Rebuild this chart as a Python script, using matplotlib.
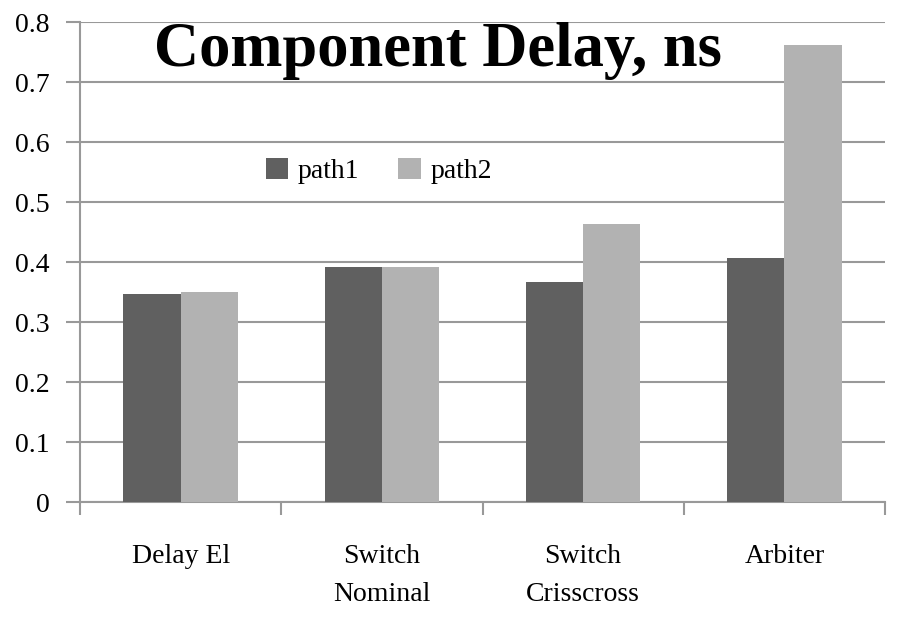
import matplotlib
matplotlib.use("Agg")
import matplotlib.pyplot as plt
import numpy as np

CATEGORIES = ["Delay El", "Switch\nNominal", "Switch\nCrisscross", "Arbiter"]
PATH1 = [0.347, 0.392, 0.367, 0.407]
PATH2 = [0.350, 0.392, 0.463, 0.762]
SERIES = ["path1", "path2"]
COLORS = ["#606060", "#b2b2b2"]
YTICKS = [0, 0.1, 0.2, 0.3, 0.4, 0.5, 0.6, 0.7, 0.8]

plt.rcParams["font.family"] = ["Liberation Serif", "DejaVu Serif"]

fig = plt.figure(figsize=(9, 6.17), dpi=100)
ax = fig.add_axes([80 / 900, 1 - 502 / 617, 805 / 900, 480 / 617])

x = np.arange(len(CATEGORIES))
w = 0.285
ax.bar(x - w / 2, PATH1, w, color=COLORS[0], label=SERIES[0], zorder=3)
ax.bar(x + w / 2, PATH2, w, color=COLORS[1], label=SERIES[1], zorder=3)

ax.set_xlim(-0.5, len(CATEGORIES) - 0.5)
ax.set_ylim(0, 0.8)
ax.set_yticks(YTICKS)
ax.set_yticklabels(["0" if v == 0 else f"{v:.1f}" for v in YTICKS], fontsize=20)
ax.yaxis.grid(True, color="#999999", linewidth=1.5, zorder=0)
ax.tick_params(axis="y", length=10, width=1.5, color="#999999", pad=12)

ax.set_xticks(x)
ax.set_xticklabels(CATEGORIES, fontsize=20, linespacing=1.7)
ax.set_xticks(np.arange(len(CATEGORIES) + 1) - 0.5, minor=True)
ax.tick_params(axis="x", which="major", length=0, pad=30)
ax.tick_params(axis="x", which="minor", length=9, width=1.5, color="#999999")

for side in ["top", "right"]:
    ax.spines[side].set_visible(False)
for side in ["left", "bottom"]:
    ax.spines[side].set_color("#999999")
    ax.spines[side].set_linewidth(1.5)

ax.text(0.445, 0.94, "Component Delay, ns", transform=ax.transAxes,
        ha="center", va="center", fontsize=45, fontweight="bold", zorder=5)

ax.legend(loc="center left", bbox_to_anchor=(0.2, 0.69), ncol=2, frameon=False,
          fontsize=20, handlelength=0.8, handleheight=0.8, handletextpad=0.35,
          columnspacing=1.4)

fig.savefig("out.png", dpi=100)
